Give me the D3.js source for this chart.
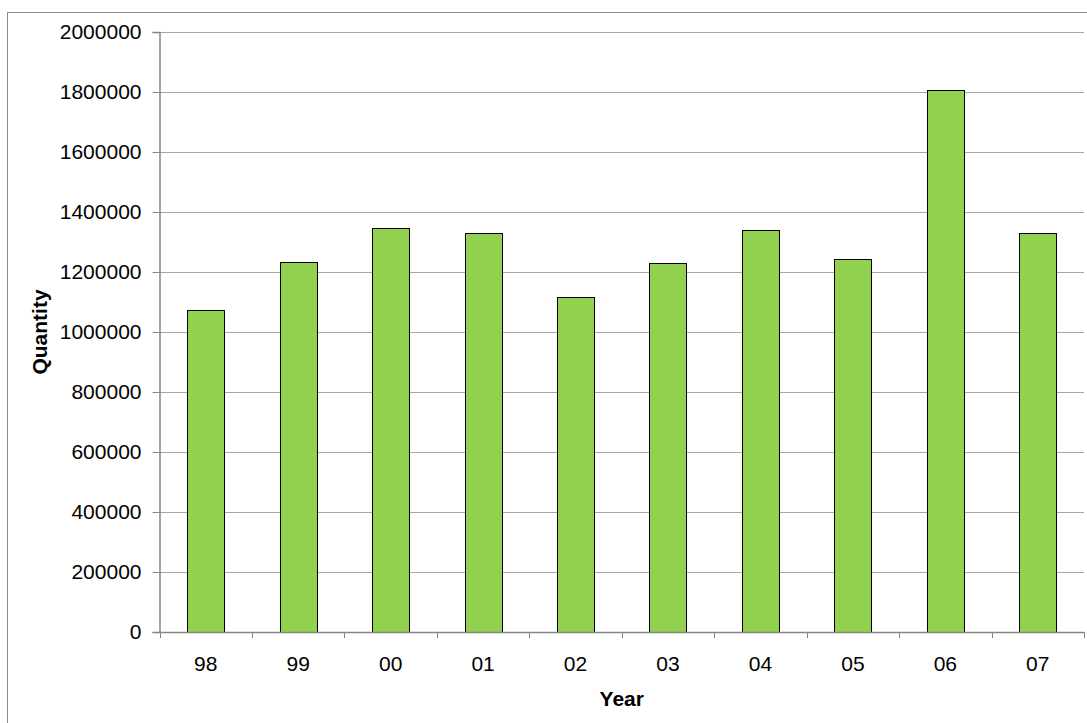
<!DOCTYPE html>
<html><head><meta charset="utf-8">
<script src="https://cdn.jsdelivr.net/npm/d3@7"></script>
<style>body{margin:0;background:#fff}svg{display:block}</style>
</head><body>
<script>
const categories = ["98","99","00","01","02","03","04","05","06","07"];
const quantities = [1075000,1232000,1347000,1329000,1116000,1229000,1340000,1243000,1806000,1329000];
const yTicks = [0,200000,400000,600000,800000,1000000,1200000,1400000,1600000,1800000,2000000];

const W = 1087, H = 723;
const m = {left:159.5, right:1084, top:32, bottom:632};
const svg = d3.select("body").append("svg").attr("width",W).attr("height",H);
const font = "Liberation Sans, Arial, sans-serif";

svg.append("rect").attr("x",7.5).attr("y",12.5).attr("width",W+20).attr("height",H+20)
  .attr("fill","none").attr("stroke","#8c8c8c").attr("stroke-width",1);

const x = d3.scaleBand().domain(categories).range([m.left,m.right]).paddingInner(0.6).paddingOuter(0.3);
const xb = d3.scaleBand().domain(categories).range([m.left,m.right]);
const y = d3.scaleLinear().domain([0,2000000]).range([m.bottom,m.top]);

// gridlines
svg.append("g").selectAll("line").data(yTicks.filter(d=>d>0)).join("line")
  .attr("x1",m.left).attr("x2",m.right)
  .attr("y1",d=>Math.round(y(d))+0.5).attr("y2",d=>Math.round(y(d))+0.5)
  .attr("stroke","#a6a6a6").attr("stroke-width",1);

// bars
svg.append("g").selectAll("rect").data(quantities).join("rect")
  .attr("x",(d,i)=>Math.round(x(categories[i]))+0.5)
  .attr("y",d=>Math.round(y(d))+0.5)
  .attr("width",Math.round(x.bandwidth()))
  .attr("height",d=>Math.round(y(0))-Math.round(y(d)))
  .attr("fill","#92d050").attr("stroke","#000").attr("stroke-width",1);

// y axis
const ya = svg.append("g").attr("transform",`translate(${m.left},0)`)
  .call(d3.axisLeft(y).tickValues(yTicks).tickSize(7).tickPadding(11).tickFormat(d3.format("d")));
ya.select(".domain").attr("stroke","#868686").attr("stroke-width",1.5);
ya.selectAll(".tick line").attr("stroke","#868686");
ya.selectAll("text").attr("font-family",font).attr("font-size",21).attr("fill","#000");

// x axis
const xa = svg.append("g").attr("transform",`translate(0,${m.bottom})`)
  .call(d3.axisBottom(xb).tickSize(0).tickPadding(24));
xa.select(".domain").attr("stroke","#868686").attr("stroke-width",1.5);
xa.selectAll("text").attr("font-family",font).attr("font-size",21).attr("fill","#000");
// category boundary ticks
svg.append("g").selectAll("line").data(categories.concat(["end"])).join("line")
  .attr("x1",(d,i)=>Math.round(m.left + i*xb.bandwidth())+0.5)
  .attr("x2",(d,i)=>Math.round(m.left + i*xb.bandwidth())+0.5)
  .attr("y1",m.bottom).attr("y2",m.bottom+6)
  .attr("stroke","#868686").attr("stroke-width",1);

// axis titles
svg.append("text").attr("x",(m.left+m.right)/2).attr("y",706).attr("text-anchor","middle")
  .attr("font-family",font).attr("font-size",21).attr("font-weight","bold").text("Year");
svg.append("text").attr("transform",`translate(47,${(m.top+m.bottom)/2}) rotate(-90)`)
  .attr("text-anchor","middle").attr("font-family",font).attr("font-size",21).attr("font-weight","bold").text("Quantity");
</script>
</body></html>
